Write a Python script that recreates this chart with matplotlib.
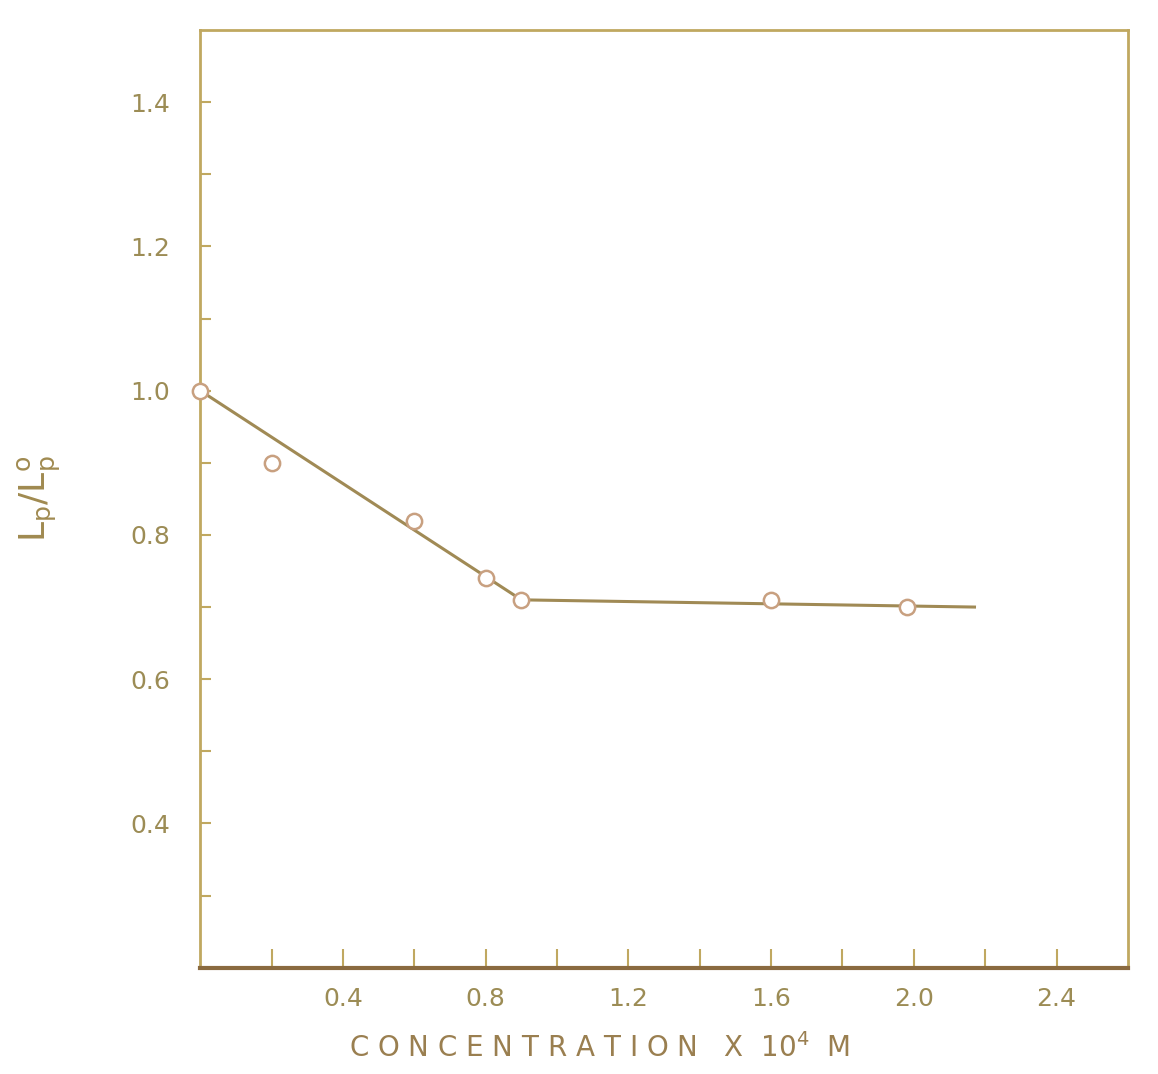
import matplotlib.pyplot as plt

# measured points (concentration x 10^4 M, Lp/Lp0)
conc = [0.0, 0.2, 0.6, 0.8, 0.9, 1.6, 1.98]
ratio = [1.0, 0.90, 0.82, 0.74, 0.71, 0.71, 0.70]

# hand drawn line through the data
line_conc = [0.0, 0.9, 2.17]
line_ratio = [1.0, 0.71, 0.70]

x_major = [0.4, 0.8, 1.2, 1.6, 2.0, 2.4]
x_labels = ["0.4", "0.8", "1.2", "1.6", "2.0", "2.4"]
y_major = [0.4, 0.6, 0.8, 1.0, 1.2, 1.4]
y_labels = ["0.4", "0.6", "0.8", "1.0", "1.2", "1.4"]

axis_col = "#c0a860"
text_col = "#9c8c55"
line_col = "#a08a55"

fig = plt.figure(figsize=(11.58, 10.74), dpi=100)
ax = fig.add_axes([0.173, 0.099, 0.801, 0.873])

ax.plot(line_conc, line_ratio, color=line_col, lw=2.2, zorder=2)
ax.plot(conc, ratio, ls="none", marker="o", ms=11, mfc="white",
        mec="#c8a080", mew=1.8, zorder=3, clip_on=False)

ax.set_xlim(0, 2.6)
ax.set_ylim(0.2, 1.5)

ax.set_xticks([0.2 * i for i in range(1, 13)], minor=True)
ax.set_xticks(x_major)
ax.set_xticklabels(x_labels)
ax.set_yticks([0.1 * i for i in range(3, 15)], minor=True)
ax.set_yticks(y_major)
ax.set_yticklabels(y_labels)

ax.tick_params(axis="both", which="both", direction="in", color=axis_col,
               width=1.5, labelcolor=text_col, labelsize=18)
ax.tick_params(axis="x", which="both", length=14, pad=14)
ax.tick_params(axis="y", which="both", length=8, pad=22)

for side, sp in ax.spines.items():
    sp.set_color(axis_col)
    sp.set_linewidth(2)
ax.spines["bottom"].set_color("#8a6a40")
ax.spines["bottom"].set_linewidth(3)

ax.set_xlabel("C O N C E N T R A T I O N   X  10$^4$  M", fontsize=20,
              color="#9a7f50")
ax.xaxis.set_label_coords(0.43, -0.07)
ax.set_ylabel(r"L$_\mathrm{p}$/L$_\mathrm{p}^\mathrm{o}$", fontsize=26,
              color="#a08a50", labelpad=48)

fig.savefig("out.png", dpi=100)
